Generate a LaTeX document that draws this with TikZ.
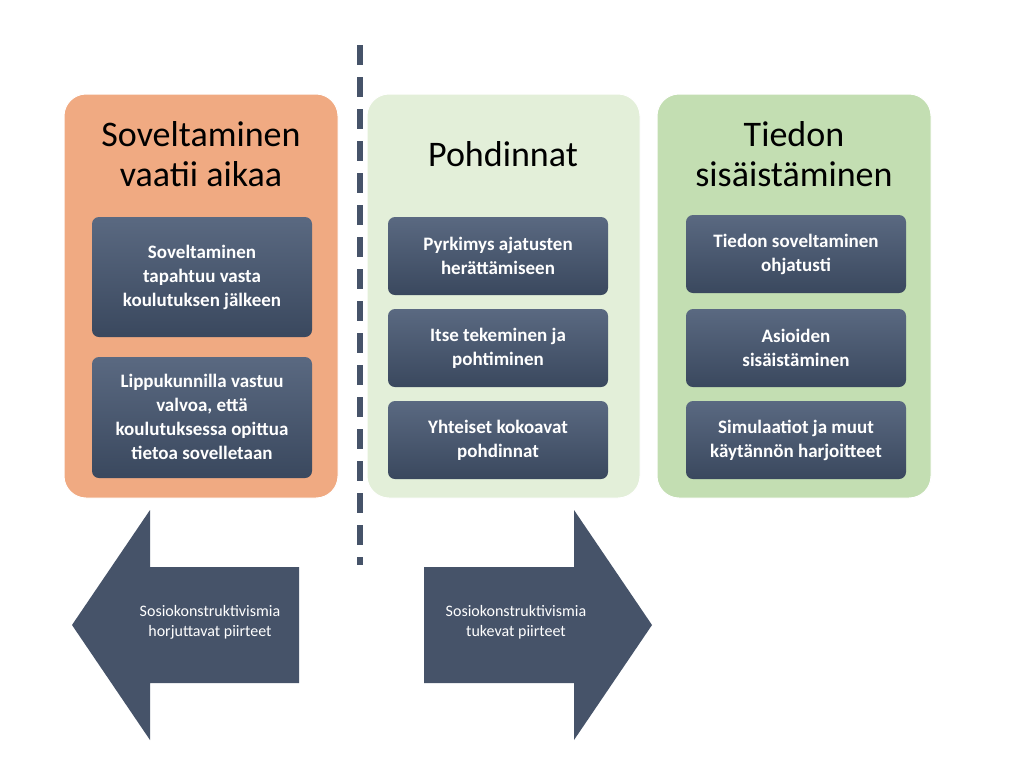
\documentclass[tikz,border=0pt]{standalone}
\usepackage{fontspec}
\setmainfont{Carlito}
\definecolor{orangeP}{HTML}{F0AA82}
\definecolor{lgreenP}{HTML}{E3EFD9}
\definecolor{greenP}{HTML}{C3DEB2}
\definecolor{slateT}{HTML}{5A6981}
\definecolor{slateB}{HTML}{3A485E}
\definecolor{arrowC}{HTML}{465369}
\begin{document}
\begin{tikzpicture}[x=1pt,y=-1pt,
 panel/.style={rounded corners=22pt,draw=white,line width=1pt},
 ttl/.style={font=\fontsize{36}{40}\selectfont,align=center,text=black},
 ibox/.style={rounded corners=7pt,top color=slateT,bottom color=slateB,draw=none},
 itxt/.style={text=white,font=\bfseries\fontsize{19}{24}\selectfont,align=center},
 arr/.style={fill=arrowC,draw=none},
 atxt/.style={text=white,font=\fontsize{16}{20}\selectfont,align=center}]
\useasboundingbox (0,0) rectangle (1024,766);
\fill[white] (0,0) rectangle (1024,766);
% panels
\path[panel,fill=orangeP] (64,94) rectangle (338,498);
\path[panel,fill=lgreenP] (367,94) rectangle (640,498);
\path[panel,fill=greenP] (657,94) rectangle (931,498);
\node[ttl] (t1) at (201,154) {Soveltaminen\\vaatii aikaa};
\node[ttl] (t2) at (503,154) {Pohdinnat};
\node[ttl] (t3) at (794,154) {Tiedon\\sisäistäminen};
% inner boxes
\path[ibox] (92,217) rectangle (312,337);
\node[itxt] (a1) at (202,277) {Soveltaminen\\tapahtuu vasta\\koulutuksen jälkeen};
\path[ibox] (92,357) rectangle (312,478);
\node[itxt] (a2) at (202,417) {Lippukunnilla vastuu\\valvoa, että\\koulutuksessa opittua\\tietoa sovelletaan};
\foreach \y/\t [count=\i] in {217/{Pyrkimys ajatusten\\herättämiseen},309/{Itse tekeminen ja\\pohtiminen},401/{Yhteiset kokoavat\\pohdinnat}}{
  \path[ibox] (388,\y) rectangle (608,\y+78);
  \node[itxt] (b\i) at (498,\y+39) {\t};
}
\foreach \y/\t [count=\i] in {215/{Tiedon soveltaminen\\ohjatusti},309/{Asioiden\\sisäistäminen},401/{Simulaatiot ja muut\\käytännön harjoitteet}}{
  \path[ibox] (686,\y) rectangle (906,\y+78);
  \node[itxt] (c\i) at (796,\y+39) {\t};
}
% dashed line
\coordinate (d1) at (360,45); \coordinate (d2) at (360,565);
\draw[arrowC,line width=6pt,dash pattern=on 20pt off 12pt] (d1) -- (d2);
% arrows
\path[arr] (72,625) -- (150,510) -- (150,567) -- (299,567) -- (299,683) -- (150,683) -- (150,740) -- cycle;
\path[arr] (652,625) -- (574,510) -- (574,567) -- (424,567) -- (424,683) -- (574,683) -- (574,740) -- cycle;
\node[atxt] (l1) at (210,622) {Sosiokonstruktivismia\\horjuttavat piirteet};
\node[atxt] (l2) at (516,622) {Sosiokonstruktivismia\\tukevat piirteet};
\end{tikzpicture}
\end{document}
